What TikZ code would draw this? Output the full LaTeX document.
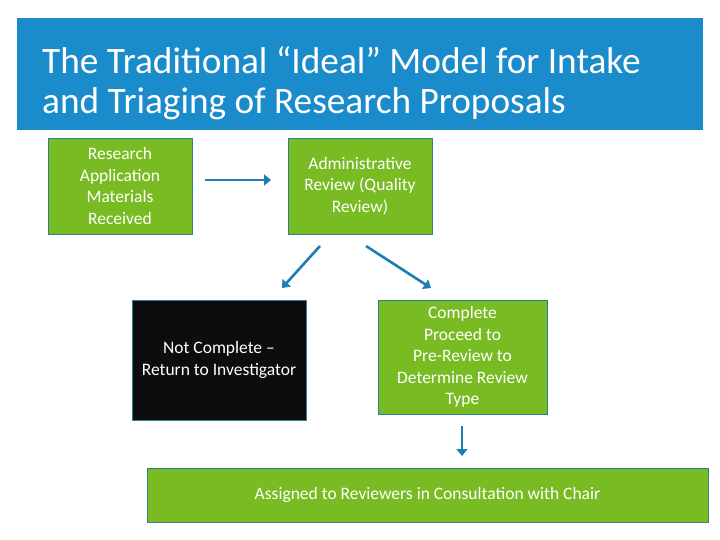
\documentclass[tikz,border=0pt]{standalone}
\usepackage{fontspec}
\setmainfont{Carlito}
\usetikzlibrary{arrows.meta}
\definecolor{banner}{HTML}{1A8BCB}
\definecolor{boxgreen}{HTML}{78BB22}
\definecolor{boxedge}{HTML}{2F7F90}
\definecolor{arr}{HTML}{1F7DB5}
\begin{document}
\begin{tikzpicture}[x=1pt,y=-1pt,
  stepbox/.style={draw=boxedge,line width=0.9pt,fill=boxgreen,text=white,align=center,inner sep=0pt,
    font=\fontsize{17.5}{21.5}\selectfont},
  flowarrow/.style={draw=arr,line width=2.6pt,-{Triangle[length=7pt,width=11pt]}}]
\useasboundingbox (0,0) rectangle (720,540);
\fill[white] (0,0) rectangle (720,540);
\fill[banner] (17,18) rectangle (703,130);
\node[anchor=north west,text=white,align=left,inner sep=0pt,font=\fontsize{37.3}{40.5}\selectfont] (title) at (42,46)
 {The Traditional “Ideal” Model for Intake\\and Triaging of Research Proposals};
\node[stepbox,minimum width=144pt,minimum height=96pt] (b1) at (120,186)
 {Research\\Application\\Materials\\Received};
\node[stepbox,minimum width=144pt,minimum height=96pt] (b2) at (360,186)
 {Administrative\\Review (Quality\\Review)};
\node[stepbox,fill=black!95,minimum width=174pt,minimum height=120pt] (b3) at (219,360)
 {Not Complete –\\Return to Investigator};
\node[stepbox,minimum width=169pt,minimum height=114pt] (b4) at (462.5,357)
 {Complete\\Proceed to\\Pre-Review to\\Determine Review\\Type};
\node[stepbox,minimum width=561pt,minimum height=54pt] (b5) at (427.5,495)
 {Assigned to Reviewers in Consultation with Chair};
\coordinate (a1s) at (205,180); \coordinate (a1e) at (271,180);
\draw[flowarrow] (a1s) -- (a1e);
\coordinate (a2s) at (320,246); \coordinate (a2e) at (282,288);
\draw[flowarrow] (a2s) -- (a2e);
\coordinate (a3s) at (366,246); \coordinate (a3e) at (431,288);
\draw[flowarrow] (a3s) -- (a3e);
\coordinate (a4s) at (462,426); \coordinate (a4e) at (462,456);
\draw[flowarrow] (a4s) -- (a4e);
\end{tikzpicture}
\end{document}
